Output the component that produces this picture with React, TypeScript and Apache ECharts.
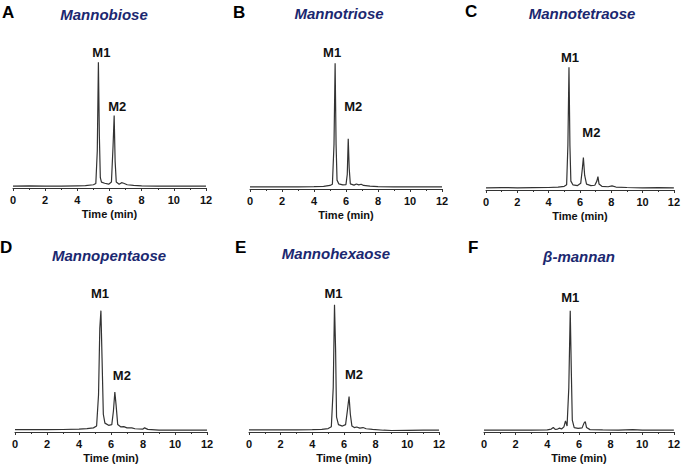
import { useEffect, useRef } from "react";
import * as echarts from "echarts";

// ---------- data ----------
const xTickValues = [0, 2, 4, 6, 8, 10, 12];
const panelLetters = ["A", "B", "C", "D", "E", "F"];
const panelTitles = ["Mannobiose", "Mannotriose", "Mannotetraose", "Mannopentaose", "Mannohexaose", "β-mannan"];
const peakNames = [["M1", "M2"], ["M1", "M2"], ["M1", "M2"], ["M1", "M2"], ["M1", "M2"], ["M1"]];
const xAxisTitle = "Time (min)";

// chromatograms: [time (min), relative signal]
const chromA: [number, number][] = [
  [0, 1.3], [1, 1.4], [2, 1.2], [3, 1.3], [4, 1.5], [4.5, 1.6], [5.0, 2.2], [5.15, 3],
  [5.24, 25], [5.31, 85], [5.37, 35], [5.43, 7], [5.5, 4], [5.7, 3.2], [5.95, 2.6], [6.12, 4],
  [6.22, 28], [6.29, 49], [6.35, 18], [6.42, 4], [6.6, 2.6], [6.75, 3.6], [6.88, 3.2], [7.1, 2.2],
  [7.5, 1.8], [8, 1.5], [9, 1.3], [10, 1.3], [11, 1.2], [12, 1.3],
];
const chromB: [number, number][] = [
  [0, 1.4], [1, 1.5], [2, 1.4], [3, 1.5], [4, 1.6], [4.6, 1.8], [5.0, 2.4], [5.15, 3.2],
  [5.25, 30], [5.32, 85], [5.38, 30], [5.44, 6], [5.55, 3.5], [5.8, 2.8], [6.0, 3], [6.08, 10],
  [6.14, 34], [6.2, 14], [6.27, 3.5], [6.5, 2.6], [6.65, 3.4], [6.8, 2.8], [6.95, 3.2], [7.1, 2.4],
  [7.5, 2], [8, 1.6], [9, 1.5], [10, 1.4], [11, 1.5], [12, 1.4],
];
const chromC: [number, number][] = [
  [0, 1.5], [1, 1.6], [2, 1.5], [3, 1.6], [4, 1.7], [4.6, 1.9], [5.0, 2.5], [5.15, 3.5],
  [5.23, 30], [5.3, 83], [5.36, 30], [5.42, 6], [5.55, 3.5], [5.85, 3], [6.05, 4.5], [6.15, 14],
  [6.22, 22], [6.3, 10], [6.42, 4], [6.7, 3], [6.95, 3.2], [7.08, 6], [7.15, 9], [7.22, 4],
  [7.4, 2.5], [7.8, 2.2], [8.05, 2.8], [8.3, 2], [9, 1.7], [10, 1.5], [11, 1.6], [12, 1.5],
];
const chromD: [number, number][] = [
  [0, 1.6], [1, 1.7], [2, 1.6], [3, 1.7], [4, 1.9], [4.5, 2.3], [4.9, 2.8], [5.1, 4],
  [5.22, 25], [5.3, 70], [5.37, 82], [5.44, 50], [5.52, 12], [5.62, 6], [5.85, 4.5], [6.05, 5],
  [6.15, 14], [6.24, 27], [6.32, 18], [6.42, 5], [6.6, 3.5], [6.8, 3.6], [7.0, 2.8], [7.3, 2.8],
  [7.5, 2.2], [8.0, 2], [8.1, 2.8], [8.3, 1.8], [9, 1.3], [10, 1.2], [11, 1.3], [12, 1.2],
];
const chromE: [number, number][] = [
  [0, 1.4], [1, 1.5], [2, 1.4], [3, 1.5], [4, 1.6], [4.6, 1.8], [5.0, 2.3], [5.2, 3.5],
  [5.32, 30], [5.4, 86], [5.47, 55], [5.53, 10], [5.65, 5], [5.9, 4], [6.1, 5], [6.22, 15],
  [6.32, 24], [6.4, 12], [6.5, 4], [6.65, 3], [6.8, 3.4], [7.0, 2.6], [7.2, 3], [7.4, 2.2],
  [7.8, 1.8], [8.5, 1.2], [9, 1], [10, 1.1], [11, 1.2], [12, 1.2],
];
const chromF: [number, number][] = [
  [0, 1.2], [1, 1.3], [2, 1.2], [3, 1.3], [4, 1.4], [4.25, 2], [4.38, 3], [4.5, 1.8],
  [4.65, 2], [4.78, 2.6], [4.9, 2], [5.05, 3.5], [5.15, 7.5], [5.25, 4], [5.36, 30], [5.45, 82],
  [5.52, 40], [5.58, 8], [5.7, 3], [5.95, 2.5], [6.2, 2.8], [6.32, 6], [6.4, 7], [6.48, 3],
  [6.7, 1.6], [7.5, 1.4], [8.5, 1.3], [9.4, 1.6], [10, 1.3], [11, 1.3], [12, 1.2],
];
const chromatograms = [chromA, chromB, chromC, chromD, chromE, chromF];
// peak positions for the annotation labels: [time, signal]
const peakAnnotA: [number, number][] = [[5.31, 85], [6.29, 49]];
const peakAnnotB: [number, number][] = [[5.32, 85], [6.14, 34]];
const peakAnnotC: [number, number][] = [[5.3, 83], [6.22, 22]];
const peakAnnotD: [number, number][] = [[5.37, 82], [6.24, 27]];
const peakAnnotE: [number, number][] = [[5.4, 86], [6.32, 24]];
const peakAnnotF: [number, number][] = [[5.45, 82]];
const peakAnnots = [peakAnnotA, peakAnnotB, peakAnnotC, peakAnnotD, peakAnnotE, peakAnnotF];

// ---------- layout ----------
const FONT = "'Liberation Sans', Arial, Helvetica, sans-serif";
const PLOT_H = 148;
const grids = [
  { left: 13, width: 193, top: 40 },
  { left: 250, width: 192, top: 41 },
  { left: 486, width: 190, top: 42 },
  { left: 15, width: 192, top: 284 },
  { left: 249, width: 190, top: 284 },
  { left: 484, width: 191, top: 284 },
];
const letterPos = [[2, 12], [233, 12], [465, 11], [0, 247], [235, 247], [468, 247]];
const titlePos = [[104, 14], [339, 13], [582, 13], [109, 255], [336, 253], [579, 256]];
// label offsets (pixels) relative to peak apex: [dx, dy]
const labelOffsets = [
  [[3, -10], [3, -9]],
  [[-3, -11], [5, -32]],
  [[1, -10], [8, -25]],
  [[-1, -17], [7, -17]],
  [[-1, -11], [5, -22]],
  [[0, -13]],
];

export default function App() {
  const ref = useRef<HTMLDivElement>(null);
  useEffect(() => {
    document.body.style.margin = "0";
    const chart = echarts.init(ref.current!, null, { renderer: "svg" });

    const graphic: any[] = [];
    panelLetters.forEach((l, i) => {
      graphic.push({
        type: "text", x: letterPos[i][0], y: letterPos[i][1],
        style: { text: l, font: `bold 17px ${FONT}`, fill: "#000", textAlign: "left", textVerticalAlign: "middle" },
      });
      graphic.push({
        type: "text", x: titlePos[i][0], y: titlePos[i][1],
        style: { text: panelTitles[i], font: `italic bold 15px ${FONT}`, fill: "#1b2870", textAlign: "center", textVerticalAlign: "middle" },
      });
    });

    const option: any = {
      animation: false,
      backgroundColor: "#fff",
      grid: grids.map((g) => ({ left: g.left, width: g.width, top: g.top, height: PLOT_H, containLabel: false })),
      xAxis: grids.map((_, i) => ({
        type: "value", gridIndex: i, min: xTickValues[0], max: xTickValues[xTickValues.length - 1], interval: 2,
        name: xAxisTitle, nameLocation: "middle", nameGap: 20,
        nameTextStyle: { fontFamily: FONT, fontWeight: "bold", fontSize: 11, color: "#111" },
        axisLine: { lineStyle: { color: "#333", width: 1 } },
        axisTick: { show: true, length: 3, lineStyle: { color: "#333" } },
        minorTick: { show: true, splitNumber: 2, length: 2, lineStyle: { color: "#333" } },
        splitLine: { show: false },
        axisLabel: { fontFamily: FONT, fontWeight: "bold", fontSize: 11, color: "#111", margin: 6 },
      })),
      yAxis: grids.map((_, i) => ({ type: "value", gridIndex: i, min: 0, max: 100, show: false })),
      series: chromatograms.map((d, i) => ({
        type: "line", xAxisIndex: i, yAxisIndex: i, data: d, symbol: "none",
        lineStyle: { color: "#333", width: 1.2 },
        markPoint: {
          symbol: "circle", symbolSize: 0,
          data: peakAnnots[i].map((p, k) => ({
            coord: p,
            label: {
              show: true, formatter: peakNames[i][k], position: "inside",
              offset: labelOffsets[i][k],
              fontFamily: FONT, fontWeight: "bold", fontSize: 13, color: "#111",
            },
          })),
        },
      })),
      graphic,
    };
    chart.setOption(option);
    return () => chart.dispose();
  }, []);
  return <div ref={ref} style={{ width: 683, height: 467 }} />;
}
